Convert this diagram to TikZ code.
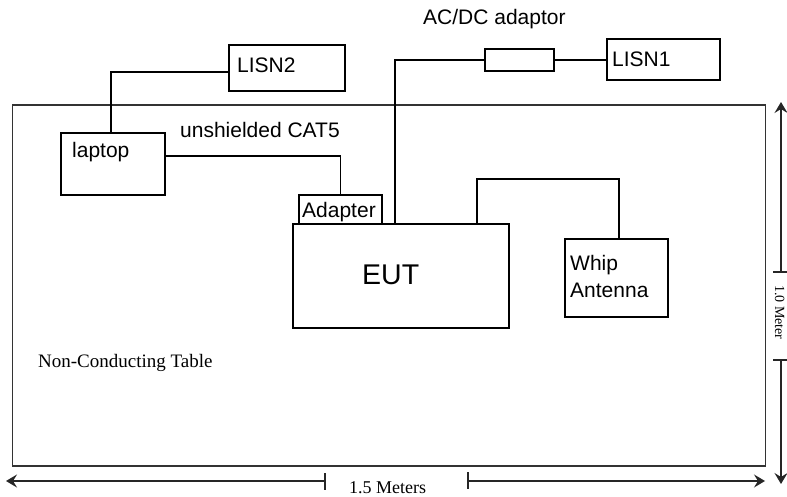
\documentclass[tikz,border=0pt]{standalone}
\usepackage{fontspec}
\setmainfont{Liberation Sans}
\newfontfamily\serifx{Liberation Serif}
\usetikzlibrary{arrows.meta}
\begin{document}
\begin{tikzpicture}[x=1pt,y=-1pt,
  box/.style={draw=black, line width=1.1pt, rectangle, inner sep=0pt},
  wire/.style={draw=black, line width=1.1pt},
  lbl/.style={font=\fontsize{21}{25}\selectfont, inner sep=0pt, anchor=base west},
  slbl/.style={font=\serifx\fontsize{18}{22}\selectfont, inner sep=0pt, anchor=base west},
  dim/.style={draw=black!85, line width=1.3pt},
  tip/.style={-{Stealth[length=11pt,width=13pt,inset=4pt]}}]
\clip (0,0) rectangle (787,497);
\fill[white] (0,0) rectangle (787,497);

% table
\node[draw=black!80, line width=1.6pt, inner sep=0pt, minimum width=753pt, minimum height=361pt] (table) at (389,285.5) {};

% boxes
\node[box, minimum width=116pt, minimum height=46pt] (lisn2) at (287,68) {};
\node[lbl] (lisn2t) at (237,73) {LISN2};
\node[box, minimum width=113pt, minimum height=41pt] (lisn1) at (663.5,59.5) {};
\node[lbl] (lisn1t) at (612,67) {LISN1};
\node[box, minimum width=69pt, minimum height=22pt] (acdc) at (519.5,60) {};
\node[lbl] (acdct) at (423,25) {AC/DC adaptor};
\node[box, minimum width=104pt, minimum height=62pt] (laptop) at (113,164) {};
\node[lbl] (laptopt) at (72,158) {laptop};
\node[lbl] (cat5) at (180,138) {unshielded CAT5};
\node[box, minimum width=83pt, minimum height=29pt] (adapter) at (340.5,209.5) {};
\node[lbl] (adaptert) at (302,218) {Adapter};
\node[box, minimum width=216pt, minimum height=104pt] (eut) at (401,276) {};
\node[lbl, font=\fontsize{28.5}{32}\selectfont] (eutt) at (362,284) {EUT};
\node[box, minimum width=103pt, minimum height=78pt] (whip) at (616.5,278) {};
\node[lbl] (whipt) at (570,270) {Whip};
\node[lbl] (antt) at (570,297) {Antenna};
\node[slbl, font=\serifx\fontsize{19}{22}\selectfont] (tablet) at (38,367) {Non-Conducting Table};

% wires
\coordinate (lisn2c) at (111,72);
\draw[wire] (laptop.north -| lisn2c) |- (lisn2.west |- lisn2c);
\draw[wire] ([yshift=8pt]laptop.east) -| (adapter.north);
\coordinate (pwr) at (395,60);
\draw[wire] (eut.north -| pwr) |- (acdc.west);
\draw[wire] (acdc.east) -- (lisn1.west |- acdc.east);
\coordinate (antL) at (477,179);
\coordinate (antR) at (619,179);
\draw[wire] (eut.north -| antL) -- (antL) -- (antR) -- (whip.north -| antR);

% horizontal dimension
\coordinate (hL) at (6,481);
\coordinate (hT1) at (325,481);
\coordinate (hT2) at (468,481);
\coordinate (hR) at (765,481);
\draw[dim, tip] (hT1) -- (hL);
\draw[dim, tip] (hT2) -- (hR);
\draw[dim] ([yshift=8pt]hT1) -- ([yshift=-9pt]hT1);
\draw[dim] ([yshift=9pt]hT2) -- ([yshift=-8pt]hT2);
\node[slbl] (hlabel) at (349,493) {1.5 Meters};

% vertical dimension
\coordinate (vT) at (781,102);
\coordinate (vT1) at (781,272);
\coordinate (vT2) at (781,360);
\coordinate (vB) at (781,484);
\draw[dim, tip] (vT1) -- (vT);
\draw[dim, tip] (vT2) -- (vB);
\draw[dim] ([xshift=-8pt]vT1) -- ([xshift=8pt]vT1);
\draw[dim] ([xshift=-8pt]vT2) -- ([xshift=8pt]vT2);
\node[slbl, font=\serifx\fontsize{14}{17}\selectfont, rotate=-90] (vlabel) at (775,285) {1.0 Meter};
\end{tikzpicture}
\end{document}
